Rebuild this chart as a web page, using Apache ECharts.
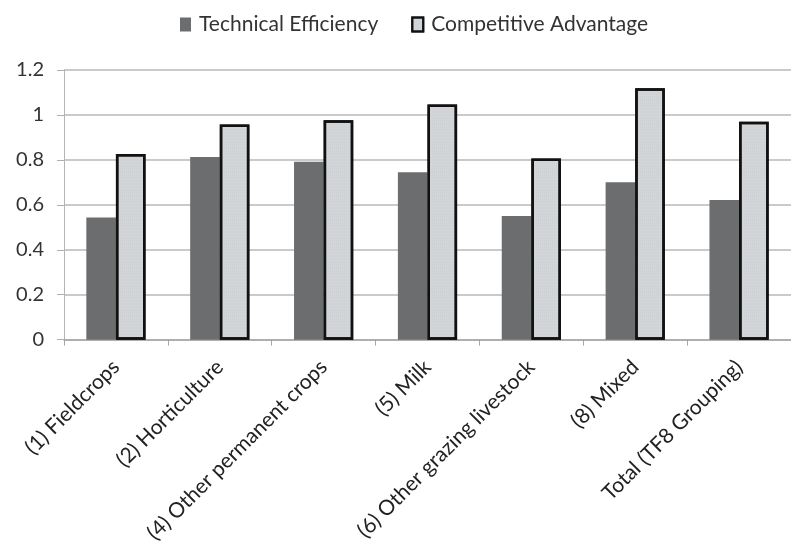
<!DOCTYPE html>
<html>
<head>
<meta charset="utf-8">
<script src="https://cdn.jsdelivr.net/npm/echarts@6/dist/echarts.min.js"></script>
<style>html,body{margin:0;padding:0;background:#fff;}#c{width:791px;height:546px;}</style>
</head>
<body>
<div id="c"></div>
<script>
const categories = ["(1) Fieldcrops", "(2) Horticulture", "(4) Other permanent crops", "(5) Milk", "(6) Other grazing livestock", "(8) Mixed", "Total (TF8 Grouping)"];
const technicalEfficiency = [0.544, 0.813, 0.792, 0.745, 0.550, 0.701, 0.621];
const competitiveAdvantage = [0.826, 0.958, 0.976, 1.046, 0.806, 1.119, 0.970];
const yTicks = [0, 0.2, 0.4, 0.6, 0.8, 1, 1.2];

const chart = echarts.init(document.getElementById('c'), null, {renderer: 'canvas'});
const font = 'Lato, "Open Sans", sans-serif';
chart.setOption({
  animation: false,
  backgroundColor: '#ffffff',
  legend: {
    top: 9,
    left: 175,
    itemWidth: 11,
    itemHeight: 14,
    itemGap: 33,
    textStyle: {fontFamily: font, fontSize: 21, color: '#333', padding: [0, 0, 0, 3]},
    data: [
      {name: 'Technical Efficiency', icon: 'rect'},
      {name: 'Competitive Advantage', icon: 'rect'}
    ]
  },
  grid: {left: 64, right: -10, top: 70, bottom: 205, containLabel: false},
  xAxis: {
    type: 'category',
    data: categories,
    axisLine: {lineStyle: {color: '#a6a6a6', width: 1.5}},
    axisTick: {show: true, length: 6, lineStyle: {color: '#a6a6a6'}},
    axisLabel: {rotate: 45, fontFamily: font, fontSize: 21, color: '#222', margin: 24, interval: 0}
  },
  yAxis: {
    type: 'value',
    min: yTicks[0],
    max: yTicks[yTicks.length - 1],
    interval: 0.2,
    axisLine: {show: true, lineStyle: {color: '#b5b5b5', width: 1}},
    axisTick: {show: true, length: 7, lineStyle: {color: '#b0b0b0'}},
    splitLine: {lineStyle: {color: '#b8b8b8', width: 1.5}},
    axisLabel: {fontFamily: font, fontSize: 20, color: '#333', margin: 20,
      formatter: v => String(Math.round(v * 10) / 10)}
  },
  series: [
    {
      name: 'Technical Efficiency',
      type: 'bar',
      data: technicalEfficiency,
      barGap: '0%',
      barCategoryGap: '43%',
      itemStyle: {color: '#6c6d6f'}
    },
    {
      name: 'Competitive Advantage',
      type: 'bar',
      data: competitiveAdvantage,
      barGap: '0%',
      barCategoryGap: '43%',
      itemStyle: {
        color: '#d3d5d8',
        borderColor: '#111',
        borderWidth: 2.5,
        decal: {symbol: 'rect', symbolSize: 0.5, dashArrayX: [1, 1], dashArrayY: [2, 1], color: 'rgba(170,175,180,0.35)', rotation: 0}
      }
    }
  ]
});
</script>
</body>
</html>
